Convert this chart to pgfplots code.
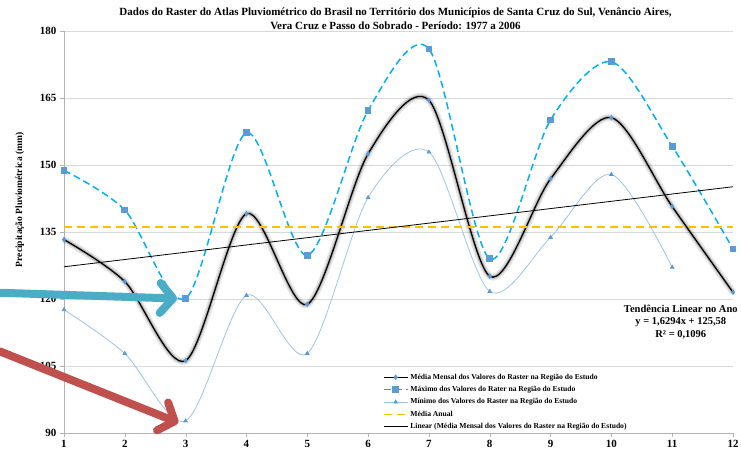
\documentclass[border=0pt]{standalone}
\usepackage{fontspec}
\setmainfont{Liberation Serif}
\usepackage{pgfplots}
\pgfplotsset{compat=1.18}
\usepackage{pgfplotstable}
\usetikzlibrary{arrows.meta}

\definecolor{maxblue}{HTML}{00B0F0}
\definecolor{mkblue}{HTML}{5B9BD5}
\definecolor{minblue}{HTML}{9DC3E6}
\definecolor{anual}{HTML}{FFC000}
\definecolor{setateal}{HTML}{4BACC6}
\definecolor{setared}{HTML}{C0504D}
\definecolor{grade}{HTML}{D9D9D9}

% mes, media mensal, maximo, minimo (mm)
\pgfplotstableread{
m  media maximo minimo
1  133.3 148.8  117.6
2  123.9 139.9  107.8
3  106.2 120.1  92.7
4  139.1 157.2  120.8
5  118.8 129.8  107.8
6  152.5 162.2  142.7
7  164.5 176.0  152.9
8  125.1 129.0  121.7
9  146.9 160.1  133.8
10 160.6 173.1  147.9
11 140.7 154.2  127.1
12 121.5 131.2  nan
}\dados

\begin{document}
\begin{tikzpicture}
  \begin{axis}[
      name=ax,
      scale only axis,
      width=669pt, height=402pt,
      xmin=1, xmax=12,
      ymin=90, ymax=180,
      xtick={1,...,12},
      ytick={90,105,...,180},
      axis x line*=bottom,
      axis y line*=left,
      axis line style={draw=gray!60},
      tick style={draw=gray!60},
      tick align=outside,
      major tick length=4pt,
      ymajorgrids,
      grid style={draw=grade, line width=0.6pt},
      /pgf/number format/assume math mode=true,
      ticklabel style={font=\fontsize{11}{13}\selectfont\bfseries},
      ylabel={Precipitação Pluviométrica (mm)},
      ylabel style={at={(axis description cs:-0.066,0.58)}, anchor=center,
        font=\fontsize{9.5}{11}\selectfont\bfseries},
      legend cell align=left,
      legend style={at={(0.475,0.155)}, anchor=north west, draw=none, fill=none,
        font=\fontsize{7.6}{8.5}\selectfont\bfseries, row sep=1.6pt, inner sep=1pt},
      legend image code/.code={
        \draw[mark repeat=2, mark phase=2, #1]
          plot coordinates {(0cm,0cm) (0.42cm,0cm) (0.84cm,0cm)};},
      clip=false,
    ]
    % sombra da media mensal
    \addplot[smooth, black, opacity=0.10, line width=7pt, forget plot]
      table[x=m, y=media] {\dados};
    \addplot[smooth, black, opacity=0.18, line width=3.5pt, forget plot]
      table[x=m, y=media] {\dados};

    \addplot[smooth, black, line width=1.3pt,
      mark=diamond*, mark size=1.8pt, mark options={fill=mkblue, draw=mkblue}]
      table[x=m, y=media] {\dados};
    \addlegendentry{Média Mensal dos Valores do Raster na Região do Estudo}

    \addplot[smooth, maxblue, line width=1.5pt, dash pattern=on 7pt off 4pt,
      mark=square*, mark size=2.6pt, mark options={solid, fill=mkblue, draw=mkblue}]
      table[x=m, y=maximo] {\dados};
    \addlegendentry{Máximo dos Valores do Rater na Região do Estudo}

    \addplot[smooth, minblue, line width=0.8pt,
      mark=triangle*, mark size=2pt, mark options={fill=mkblue, draw=mkblue}]
      table[x=m, y=minimo] {\dados};
    \addlegendentry{Mínimo dos Valores do Raster na Região do Estudo}

    \addplot[anual, line width=1.3pt, dash pattern=on 8pt off 5pt]
      coordinates {(1,136.1) (12,136.1)};
    \addlegendentry{Média Anual}

    \addplot[black, line width=0.8pt]
      coordinates {(1,127.21) (12,145.13)};
    \addlegendentry{Linear (Média Mensal dos Valores do Raster na Região do Estudo)}

    \node[align=center, font=\fontsize{10.5}{12.5}\selectfont\bfseries]
      at (axis description cs:0.922,0.276)
      {Tendência Linear no Ano\\y = 1,6294x + 125,58\\R² = 0,1096};

    % setas de destaque
    \draw[setateal, line width=8pt, line cap=round,
      -{Straight Barb[length=13pt, width=30pt, round]}]
      (axis cs:-0.06,121.4) -- (axis cs:2.86,120.1);
    \draw[setared, line width=8pt, line cap=round,
      -{Straight Barb[length=13pt, width=30pt, round]}]
      (axis cs:-0.06,108.3) -- (axis cs:2.88,92.3);
  \end{axis}
  \node[anchor=south, align=center, font=\fontsize{11}{13.5}\selectfont\bfseries]
    at ([xshift=-3pt, yshift=-2pt]ax.north)
    {Dados do Raster do Atlas Pluviométrico do Brasil no Território dos Municípios de Santa Cruz do Sul, Venâncio Aires,\\
     Vera Cruz e Passo do Sobrado - Período: 1977 a 2006};
  \pgfresetboundingbox
  \path[use as bounding box] ([xshift=-64pt, yshift=-19pt]ax.south west)
    rectangle ([xshift=8pt, yshift=31pt]ax.north east);
\end{tikzpicture}
\end{document}
